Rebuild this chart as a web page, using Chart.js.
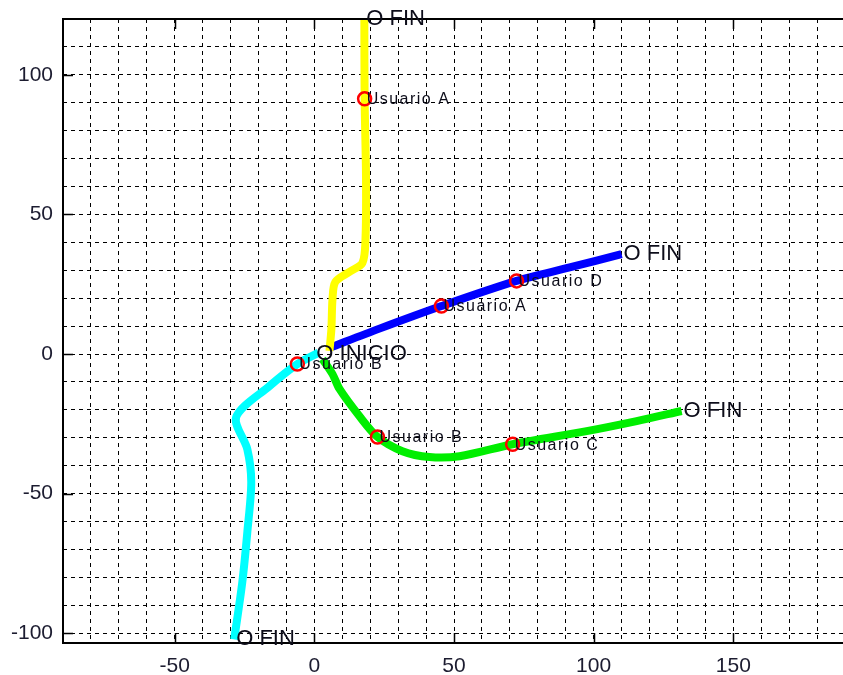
<!DOCTYPE html>
<html>
<head>
<meta charset="utf-8">
<script src="https://cdn.jsdelivr.net/npm/chart.js@4/dist/chart.umd.min.js"></script>
<style>
  html, body { margin: 0; padding: 0; background: #fff; overflow: hidden; }
  canvas { display: block; }
</style>
</head>
<body>
<canvas id="mapa" width="846" height="675"></canvas>
<script>
// Routes leaving the start point, one per colour (x, y in metres)
const amarilloX = [5.4, 6.1, 6.5, 7.5, 12.5, 17.2, 18.3, 18.5, 18.0, 17.9];
const amarilloY = [1.1, 9.0, 19.7, 25.8, 29.4, 32.6, 41.0, 62.7, 91.4, 120.0];

const azulX = [5.4, 23.3, 45.5, 72.4, 91.4, 110.0];
const azulY = [2.2, 9.1, 17.2, 26.2, 31.0, 35.8];

const verdeX = [2.9, 6.5, 9.0, 16.1, 22.6, 31.5, 41.2, 52.0, 71.0, 97.5, 115.4, 131.5];
const verdeY = [-1.8, -7.2, -12.5, -22.2, -29.7, -34.8, -36.9, -36.6, -32.3, -27.6, -24.0, -20.4];

const cianX = [1.5, -6.1, -16.1, -28.0, -24.0, -22.6, -24.0, -25.8, -28.7];
const cianY = [0.5, -3.6, -11.5, -22.6, -34.1, -45.9, -63.8, -81.7, -102.2];

// User positions along the routes
const usuarioNombre = ['Usuario A', 'Usuario A', 'Usuario D', 'Usuario B', 'Usuario C', 'Usuario B'];
const usuarioX = [18.0, 45.5, 72.4, 22.6, 71.0, -6.1];
const usuarioY = [91.4, 17.2, 26.2, -29.7, -32.3, -3.6];

// Start point
const inicioX = [0];
const inicioY = [0];

// Axis ticks (grid every 10, labels every 50)
const ticksX = [-90, -80, -70, -60, -50, -40, -30, -20, -10, 0, 10, 20, 30, 40, 50, 60, 70, 80, 90, 100, 110, 120, 130, 140, 150, 160, 170, 180];
const ticksY = [-100, -90, -80, -70, -60, -50, -40, -30, -20, -10, 0, 10, 20, 30, 40, 50, 60, 70, 80, 90, 100, 110, 120];
const paso = 50;

const puntos = (xs, ys) => xs.map((x, i) => ({ x: x, y: ys[i] }));

const rutas = [
  { nombre: 'amarilla', color: '#ffff00', xs: amarilloX, ys: amarilloY },
  { nombre: 'azul', color: '#0000ff', xs: azulX, ys: azulY },
  { nombre: 'verde', color: '#00ee00', xs: verdeX, ys: verdeY },
  { nombre: 'cian', color: '#00ffff', xs: cianX, ys: cianY }
];

const TXT = '"Liberation Sans", Arial, sans-serif';

// Frame, inner tick marks and text labels
const rotulos = {
  id: 'rotulos',
  afterDatasetsDraw(chart) {
    const { ctx, chartArea: a, scales } = chart;
    const sx = scales.x, sy = scales.y;
    ctx.save();
    ctx.strokeStyle = '#000';
    ctx.lineWidth = 2;
    ctx.beginPath();
    ctx.moveTo(a.right + 2, a.top);
    ctx.lineTo(a.left, a.top);
    ctx.lineTo(a.left, a.bottom);
    ctx.lineTo(a.right + 2, a.bottom);
    ctx.stroke();

    ctx.lineWidth = 1.5;
    ctx.beginPath();
    ticksX.filter(v => v % paso === 0).forEach(v => {
      const p = Math.round(sx.getPixelForValue(v)) + 0.5;
      ctx.moveTo(p, a.bottom); ctx.lineTo(p, a.bottom - 10);
      ctx.moveTo(p, a.top); ctx.lineTo(p, a.top + 10);
    });
    ticksY.filter(v => v % paso === 0).forEach(v => {
      const p = Math.round(sy.getPixelForValue(v)) + 0.5;
      ctx.moveTo(a.left, p); ctx.lineTo(a.left + 10, p);
    });
    ctx.stroke();

    ctx.fillStyle = '#0d0d1a';
    ctx.textAlign = 'left';
    ctx.textBaseline = 'middle';

    // start and end labels
    ctx.font = '22px ' + TXT;
    ctx.fillText('O INICIO', sx.getPixelForValue(inicioX[0]) + 2, sy.getPixelForValue(inicioY[0]));
    rutas.forEach(r => {
      const n = r.xs.length - 1;
      ctx.fillText('O FIN', sx.getPixelForValue(r.xs[n]) + 2, sy.getPixelForValue(r.ys[n]));
    });

    // user labels
    ctx.font = '16px ' + TXT;
    if ('letterSpacing' in ctx) ctx.letterSpacing = '1.5px';
    usuarioNombre.forEach((t, i) => {
      ctx.fillText(t, sx.getPixelForValue(usuarioX[i]) + 2, sy.getPixelForValue(usuarioY[i]) + 1);
    });
    ctx.restore();
  }
};

const sinRelleno = s => { s.paddingLeft = 0; s.paddingRight = 0; s.paddingTop = 0; s.paddingBottom = 0; };

const escala = (min, max, ticks) => ({
  type: 'linear',
  min: min,
  max: max,
  afterBuildTicks: s => { s.ticks = ticks.map(v => ({ value: v })); },
  grid: { color: '#000', lineWidth: 1, drawTicks: false },
  border: { display: false, dash: [4, 4] },
  ticks: {
    autoSkip: false,
    maxRotation: 0,
    padding: 11,
    color: '#1c1c30',
    font: { family: TXT, size: 21 },
    callback: v => (v % paso === 0 ? String(v) : '')
  }
});

const optX = escala(-90, 190, ticksX);
optX.position = 'bottom';
optX.afterFit = s => { s.height = 32; sinRelleno(s); };
const optY = escala(-103.5, 120, ticksY);
optY.position = 'left';
optY.ticks.padding = 10;
optY.afterFit = s => { s.width = 63; sinRelleno(s); };

const datasets = [
  {
    data: puntos(usuarioX, usuarioY),
    showLine: false,
    pointStyle: 'circle',
    pointRadius: 6.5,
    pointBorderWidth: 2.5,
    pointBorderColor: '#ff0000',
    pointBackgroundColor: 'rgba(0,0,0,0)',
    order: 0
  }
].concat(rutas.map((r, i) => ({
  data: puntos(r.xs, r.ys),
  showLine: true,
  borderColor: r.color,
  borderWidth: 8,
  tension: 0.3,
  borderJoinStyle: 'round',
  pointRadius: 0,
  order: i + 1
})));

new Chart(document.getElementById('mapa'), {
  type: 'scatter',
  data: { datasets: datasets },
  options: {
    responsive: false,
    animation: false,
    devicePixelRatio: 1,
    layout: { autoPadding: false, padding: { top: 19, right: 1, left: 0, bottom: 0 } },
    plugins: { legend: { display: false }, tooltip: { enabled: false } },
    scales: { x: optX, y: optY }
  },
  plugins: [rotulos]
});
</script>
</body>
</html>
